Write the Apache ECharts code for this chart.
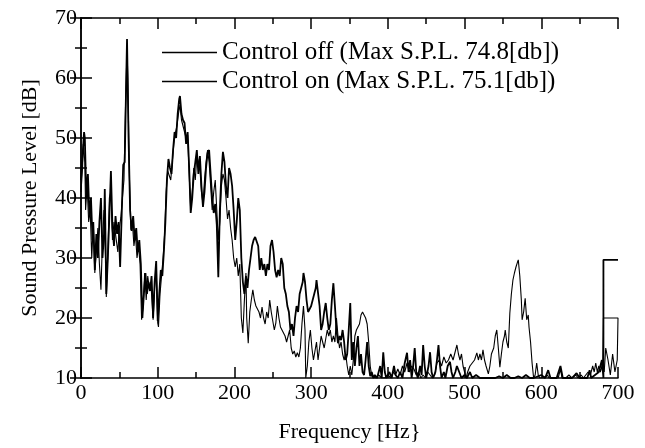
<!DOCTYPE html>
<html>
<head>
<meta charset="utf-8">
<script src="https://cdn.jsdelivr.net/npm/echarts@6/dist/echarts.min.js"></script>
<style>
  html, body { margin: 0; padding: 0; background: #fff; }
  #chart { width: 645px; height: 448px; }
</style>
</head>
<body>
<div id="chart"></div>
<script>
// control off
var freqOff = [0,2,4,5,7,9,11,13,15,16,18,20,22,24,26,28,30,31,33,35,37,39,41,43,45,47,49,51,53,55,57,59,60,62,64,66,68,70,72,74,76,78,80,82,84,86,88,90,92,94,96,98,100,102,104,106,108,110,112,114,116,118,120,122,124,126,128,129,131,133,135,137,139,141,143,145,147,149,151,153,155,157,159,161,163,165,167,169,171,173,175,177,179,181,183,185,187,189,191,193,195,197,199,201,203,205,207,209,211,213,215,217,219,221,223,225,227,229,231,233,235,237,239,241,243,245,247,249,251,253,255,257,259,261,263,265,267,269,271,273,275,277,279,281,283,285,287,289,290,292,294,296,298,300,302,304,306,307,309,311,313,315,317,319,321,323,325,327,329,331,333,335,337,339,341,343,345,347,349,351,353,355,357,359,361,363,365,367,369,371,373,375,377,379,381,383,386,390,392,394,396,398,402,405,408,410,413,416,419,422,425,427,429,431,433,435,437,439,442,444,446,448,450,453,455,457,459,462,464,466,468,470,473,475,478,481,483,485,488,490,493,496,500,503,507,510,515,520,525,530,535,540,545,550,555,560,565,570,575,580,585,590,600,605,609,612,620,625,628,640,646,650,660,663,665,670,675,679,681,681,700];
var splOff = [43,47,51,50,40,44,37,40,33,36,28,34,30,36,40,30,34,41.5,24,30,37,44.5,35,32,37,34,36,28.5,37,45.5,46,60,66.5,50,38,34.5,37,33,35,31,33,29,20,24,27.5,24,26,24.5,27,20,26,29.5,19.5,24,28,27,31,36,43,46.5,45,44,48,51,50,54,56.5,57,54,53,52.5,49,51,45,37.5,40,44,46,48,44,47,42,38.5,41,45,47.5,48,44,40,37.5,39,35.5,26.8,38,44,47.7,46,42,40,45,44,42,38,33,36,40,38,30,26,24,27,25,28,30,32,33,33.5,33.8,32,28,30,28,29,27,29,28,32,33,31,28,26.8,28,27,30,29,25,24,22,21,18,19,17,20,22,21,24,25,26,27.5,26,23,21,21.3,22,23,24,25,26.3,26,22,18,19,21,22.5,20,18,19,23,25.8,22,18,15.8,17,16.3,18,16,13,14,18,22.5,13,16,12,15,17,12,14,11,10.5,13,16,12,10.3,11,10,10.5,10,12,10,14.3,11,10,11,10,12,10.5,10,11,10,12.5,14.2,11,13,10,12,15,11,10,12,10.5,15.5,12,10,12,14.3,11,10,11,13,15.5,12,10,11,10,12,12.7,11,10,11,12,11,10,10.5,10,11,10,10.5,10,10,10,10,10,10.3,10,10.5,10,10,10.3,10,10.5,10,10,10.5,10,11.3,10,10,12,10,10,10.8,10,10,11.3,10,10.5,11,13,10,29.7,29.7];

// control on
var freqOn = [0,2,3,5,6,8,10,12,14,16,18,20,22,24,26,28,30,32,33,35,37,39,41,43,45,46,48,50,52,54,56,58,60,61,63,65,67,69,71,73,75,77,79,81,83,85,87,89,91,93,94,96,98,100,101,103,105,107,109,111,113,115,117,119,121,123,125,127,129,131,133,135,137,139,141,143,145,147,149,151,153,155,157,159,161,163,165,167,169,171,173,175,177,179,181,183,185,187,189,191,193,195,197,199,201,203,205,207,209,211,213,215,216,218,220,222,224,226,228,230,232,234,236,238,240,242,244,246,248,250,252,254,256,258,260,262,264,266,268,270,272,274,276,278,280,282,284,286,288,290,292,293,295,297,299,301,303,305,307,309,311,313,315,317,319,321,323,325,327,329,331,333,335,337,339,341,343,345,347,349,351,353,355,357,359,361,363,365,367,369,371,373,375,377,379,381,384,388,392,396,400,404,407,410,413,416,419,422,425,428,431,434,437,440,443,446,449,452,455,458,461,464,467,470,473,476,479,482,485,488,490,492,494,496,498,500,502,504,507,510,513,516,518,520,522,524,526,528,531,533,535,538,540,542,544,546,548,550,552,553,555,557,559,561,563,565,567,569,570,572,574,575,577,579,581,583,584,586,588,590,592,594,596,598,600,605,608,610,615,622,625,627,632,636,640,645,648,652,655,658,661,664,667,669,671,673,675,677,679,680,681,700,699,696,693,690,687,684,682];
var splOn = [41,45,49,46,38,42,36,38,30,35.8,27.5,31,35,29,24.7,33,38,30,23.5,31,40,41,33,36,34,34,31,35,36.8,40,43,55,65,60,44,34.7,36,32,34,30,32,29,19.7,22,27.5,23,27,25,26,22,19.7,25,28,19.2,18.5,24,27,30,34,41,44.5,44.7,43,46,49,50.8,52,54,55.5,53,52,51,50,50.5,44,38,41,45,43,47,46,45,41,39,43,46,48,46,42,38,41,43,38,33,36,42,44,43,40,36.5,38,35,33,30,28.5,30,27,29,20,17.5,23,27.5,20,15.8,21,23,24.7,23,22,22,21,20,21.8,20,19,21,20,23,21,19.5,18,19.2,22,20,18.5,18,18,17,16,17,18,15,14,14.5,13.5,14.2,13.5,15,19,22,18,10,12,16,18,15,13,14.5,16,13,15,17,16,15,16.5,18,17,18,16,17,16,20,17,15,16,14,13,14,12,10.5,12,10.5,13,17,18,18,19,20.5,21,20.8,20,19,16,12,10.3,10,10,10.5,10,10,10.5,10,11,10.5,11.5,10.5,12,11,12.5,11,12,11.5,10.5,11,10,10.5,10,11,10.5,10,10.5,12.5,13,12,13.5,12.5,13,14,13,14.5,15.5,14,13,14,12,11,10,11,12,12.5,13,14.2,13,14,13,14.7,13,12,10.7,12,14,15,17,18,15,11.8,14,16,17,18,16,15,20.8,24,26.3,27.5,28.5,29.3,29.7,27,23,19.7,21,23.3,19.7,20.5,18.5,16,12.5,10,10.5,12.5,10.5,10,10,10,10.5,10,10,10,11.5,10,10,10.5,10,10.5,10,10.5,10,10.5,11,10.5,12,11,12.5,11,12,11,12,11,20,20,13,11,14,10.5,13,15,11];

var xTicks = [0, 700, 100];
var yTicks = [10, 70, 10];

function pairs(xs, ys) {
    return xs.map(function (x, i) { return [x, ys[i]]; });
}

var chart = echarts.init(document.getElementById('chart'));
var font = '"Liberation Serif", "Times New Roman", serif';

var tickStyle = { show: true, inside: true, length: 11, lineStyle: { color: '#000', width: 1.5 } };
var minorStyle = { show: true, splitNumber: 2, length: 6, lineStyle: { color: '#000', width: 1.5 } };
var lineStyle = { lineStyle: { color: '#000', width: 1.5 } };

chart.setOption({
    animation: false,
    backgroundColor: '#fff',
    textStyle: { fontFamily: font, color: '#000' },
    grid: { left: 81, right: 27, top: 18, bottom: 70 },
    legend: {
        orient: 'vertical',
        left: 157,
        top: 35,
        icon: 'rect',
        itemWidth: 55,
        itemHeight: 1.5,
        itemGap: 4,
        textStyle: { fontFamily: font, fontSize: 25, color: '#000', padding: [0, 0, 0, 0] },
        data: ['Control off (Max S.P.L. 74.8[db])', 'Control on (Max S.P.L. 75.1[db])']
    },
    xAxis: [{
        type: 'value',
        min: xTicks[0], max: xTicks[1], interval: xTicks[2],
        name: 'Frequency [Hz}',
        nameLocation: 'middle',
        nameGap: 43,
        nameTextStyle: { fontFamily: font, fontSize: 22, color: '#000' },
        axisLine: lineStyle,
        axisTick: tickStyle,
        minorTick: minorStyle,
        axisLabel: { fontFamily: font, fontSize: 22, color: '#000', margin: 4 },
        splitLine: { show: false }
    }, {
        type: 'value', position: 'top',
        min: xTicks[0], max: xTicks[1], interval: xTicks[2],
        axisLine: lineStyle,
        axisTick: tickStyle,
        minorTick: minorStyle,
        axisLabel: { show: false },
        splitLine: { show: false }
    }],
    yAxis: [{
        type: 'value',
        min: yTicks[0], max: yTicks[1], interval: yTicks[2],
        name: 'Sound Pressure Level [dB]',
        nameLocation: 'middle',
        nameGap: 40,
        nameTextStyle: { fontFamily: font, fontSize: 22, color: '#000' },
        axisLine: lineStyle,
        axisTick: tickStyle,
        minorTick: minorStyle,
        axisLabel: { fontFamily: font, fontSize: 22, color: '#000', margin: 4 },
        splitLine: { show: false }
    }, {
        type: 'value', position: 'right',
        min: yTicks[0], max: yTicks[1], interval: yTicks[2],
        axisLine: lineStyle,
        axisTick: tickStyle,
        minorTick: minorStyle,
        axisLabel: { show: false },
        splitLine: { show: false }
    }],
    series: [{
        name: 'Control off (Max S.P.L. 74.8[db])',
        type: 'line',
        symbol: 'none',
        data: pairs(freqOff, splOff),
        lineStyle: { color: '#000', width: 1.8 },
        itemStyle: { color: '#000' }
    }, {
        name: 'Control on (Max S.P.L. 75.1[db])',
        type: 'line',
        symbol: 'none',
        data: pairs(freqOn, splOn),
        lineStyle: { color: '#000', width: 1.1 },
        itemStyle: { color: '#000' }
    }]
});
</script>
</body>
</html>
